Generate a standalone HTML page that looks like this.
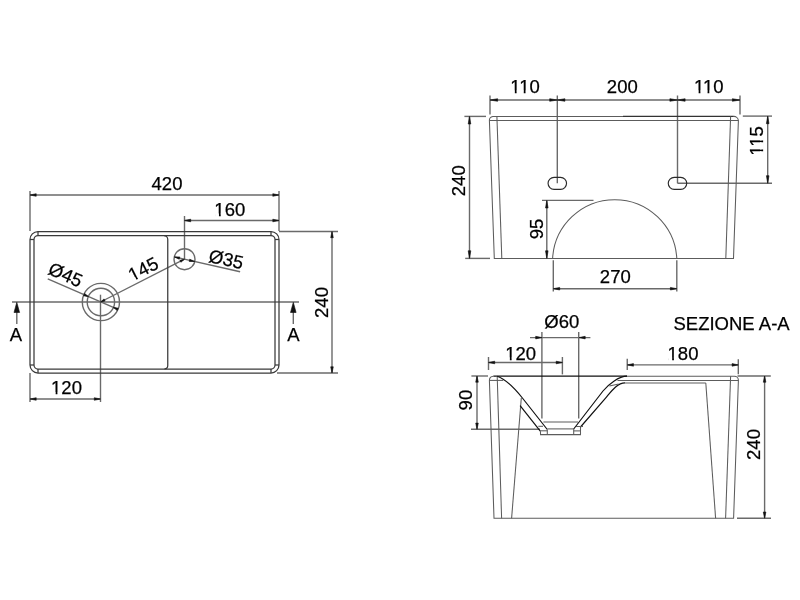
<!DOCTYPE html>
<html><head><meta charset="utf-8"><style>
html,body{margin:0;padding:0;background:#fff;width:800px;height:600px;overflow:hidden}
svg{display:block;position:absolute;left:0;top:0;will-change:transform}
text{font-family:"Liberation Sans",sans-serif}
</style></head><body>
<svg width="800" height="600" viewBox="0 0 800 600">
<defs>
<clipPath id="c0" clipPathUnits="userSpaceOnUse"><path clip-rule="evenodd" d="M29.80000000000001,156 H429.8 V276 H29.80000000000001 Z M215.08,213.50 H218.96 V217.40 H215.08 Z M220.72,213.50 H224.45 V217.40 H220.72 Z"/></clipPath>
<clipPath id="c1" clipPathUnits="userSpaceOnUse"><path clip-rule="evenodd" d="M-133.5,334.4 H266.5 V454.4 H-133.5 Z M51.78,391.90 H55.66 V395.80 H51.78 Z M57.42,391.90 H61.15 V395.80 H57.42 Z"/></clipPath>
<clipPath id="c2" clipPathUnits="userSpaceOnUse"><path clip-rule="evenodd" d="M-53.900000000000006,214.7 H346.1 V334.7 H-53.900000000000006 Z M131.38,272.20 H135.26 V276.10 H131.38 Z M137.02,272.20 H140.75 V276.10 H137.02 Z"/></clipPath>
<clipPath id="c3" clipPathUnits="userSpaceOnUse"><path clip-rule="evenodd" d="M325,33 H725 V153 H325 Z M510.96,90.50 H514.84 V94.40 H510.96 Z M516.60,90.50 H523.76 V94.40 H516.60 Z M525.52,90.50 H529.25 V94.40 H525.52 Z"/></clipPath>
<clipPath id="c4" clipPathUnits="userSpaceOnUse"><path clip-rule="evenodd" d="M508.79999999999995,33 H908.8 V153 H508.79999999999995 Z M694.76,90.50 H698.64 V94.40 H694.76 Z M700.40,90.50 H707.56 V94.40 H700.40 Z M709.32,90.50 H713.05 V94.40 H709.32 Z"/></clipPath>
<clipPath id="c5" clipPathUnits="userSpaceOnUse"><path clip-rule="evenodd" d="M562.5,81 H962.5 V201 H562.5 Z M748.46,138.50 H752.34 V142.40 H748.46 Z M754.10,138.50 H761.26 V142.40 H754.10 Z M763.02,138.50 H766.75 V142.40 H763.02 Z"/></clipPath>
<clipPath id="c6" clipPathUnits="userSpaceOnUse"><path clip-rule="evenodd" d="M320.70000000000005,300 H720.7 V420 H320.70000000000005 Z M505.98,357.50 H509.86 V361.40 H505.98 Z M511.62,357.50 H515.35 V361.40 H511.62 Z"/></clipPath>
<clipPath id="c7" clipPathUnits="userSpaceOnUse"><path clip-rule="evenodd" d="M483,300 H883 V420 H483 Z M668.28,357.50 H672.16 V361.40 H668.28 Z M673.92,357.50 H677.65 V361.40 H673.92 Z"/></clipPath>
</defs>
<g fill="none" stroke="#6a6a6a" stroke-width="1.4">
<line x1="30.00" y1="191.00" x2="30.00" y2="231.00"/>
<line x1="279.00" y1="191.00" x2="279.00" y2="231.00"/>
<line x1="30.00" y1="195.00" x2="279.00" y2="195.00"/>
<line x1="184.50" y1="216.00" x2="184.50" y2="259.20"/>
<line x1="184.50" y1="220.50" x2="279.00" y2="220.50"/>
<line x1="279.00" y1="231.50" x2="338.00" y2="231.50"/>
<line x1="277.00" y1="373.00" x2="338.00" y2="373.00"/>
<line x1="332.00" y1="231.50" x2="332.00" y2="373.00"/>
<line x1="12.00" y1="302.00" x2="299.00" y2="302.00"/>
<line x1="16.80" y1="312.00" x2="16.80" y2="324.00"/>
<line x1="293.30" y1="312.00" x2="293.30" y2="324.00"/>
<circle cx="100.9" cy="302" r="18.6"/>
<circle cx="100.9" cy="302" r="13.7"/>
<line x1="100.50" y1="294.70" x2="100.50" y2="402.00"/>
<line x1="30.00" y1="373.00" x2="30.00" y2="402.00"/>
<line x1="30.00" y1="399.00" x2="100.50" y2="399.00"/>
<circle cx="184.5" cy="259.2" r="10.5"/>
<line x1="174.26" y1="256.89" x2="240.11" y2="271.73"/>
<line x1="47.75" y1="278.78" x2="117.94" y2="309.45"/>
<line x1="100.50" y1="302.00" x2="184.50" y2="259.20"/>
<line x1="490.00" y1="95.50" x2="490.00" y2="114.60"/>
<line x1="740.00" y1="95.50" x2="740.00" y2="114.40"/>
<line x1="557.30" y1="95.50" x2="557.30" y2="183.30"/>
<line x1="677.50" y1="95.50" x2="677.50" y2="183.30"/>
<line x1="490.00" y1="100.00" x2="557.30" y2="100.00"/>
<line x1="557.30" y1="100.00" x2="677.50" y2="100.00"/>
<line x1="677.50" y1="100.00" x2="740.00" y2="100.00"/>
<line x1="464.40" y1="116.40" x2="486.00" y2="116.40"/>
<line x1="465.20" y1="258.40" x2="490.00" y2="258.40"/>
<line x1="469.50" y1="116.40" x2="469.50" y2="258.40"/>
<line x1="742.80" y1="116.10" x2="772.00" y2="116.10"/>
<line x1="677.50" y1="183.30" x2="772.00" y2="183.30"/>
<line x1="767.70" y1="116.10" x2="767.70" y2="183.30"/>
<line x1="542.00" y1="200.40" x2="593.50" y2="200.40"/>
<line x1="546.80" y1="200.40" x2="546.80" y2="258.40"/>
<line x1="553.30" y1="260.30" x2="553.30" y2="291.50"/>
<line x1="676.80" y1="260.30" x2="676.80" y2="291.50"/>
<line x1="553.30" y1="288.70" x2="676.80" y2="288.70"/>
<line x1="541.90" y1="332.00" x2="541.90" y2="418.40"/>
<line x1="578.70" y1="332.00" x2="578.70" y2="418.40"/>
<line x1="530.00" y1="337.60" x2="590.40" y2="337.60"/>
<line x1="488.50" y1="357.00" x2="488.50" y2="370.00"/>
<line x1="562.40" y1="357.00" x2="562.40" y2="374.40"/>
<line x1="488.50" y1="362.50" x2="562.40" y2="362.50"/>
<line x1="627.25" y1="358.75" x2="627.25" y2="370.00"/>
<line x1="738.30" y1="359.20" x2="738.30" y2="374.20"/>
<line x1="627.25" y1="364.90" x2="738.30" y2="364.90"/>
<line x1="471.40" y1="376.00" x2="488.00" y2="376.00"/>
<line x1="471.00" y1="429.30" x2="540.00" y2="429.30"/>
<line x1="477.00" y1="376.00" x2="477.00" y2="429.30"/>
<line x1="737.50" y1="376.00" x2="770.80" y2="376.00"/>
<line x1="737.00" y1="518.20" x2="771.00" y2="518.20"/>
<line x1="764.60" y1="376.00" x2="764.60" y2="518.20"/>
</g>
<g fill="none" stroke="#5c5c5c" stroke-width="1.05">
<path d="M38,231.5 H271 A8,8 0 0 1 279,239.5 V365 A8,8 0 0 1 271,373 H38 A8,8 0 0 1 30,365 V239.5 A8,8 0 0 1 38,231.5 Z" stroke="#3a3a3a" stroke-width="1.25"/>
<path d="M38,235.5 H271 A4,4 0 0 1 275,239.5 V365 A4,4 0 0 1 271,369 H38 A4,4 0 0 1 34,365 V239.5 A4,4 0 0 1 38,235.5 Z" stroke="#3a3a3a" stroke-width="1.25"/>
<line x1="38.00" y1="231.50" x2="38.00" y2="235.50" stroke="#3a3a3a" stroke-width="1.25"/>
<line x1="30.00" y1="239.50" x2="34.00" y2="239.50" stroke="#3a3a3a" stroke-width="1.25"/>
<line x1="271.00" y1="231.50" x2="271.00" y2="235.50" stroke="#3a3a3a" stroke-width="1.25"/>
<line x1="275.00" y1="239.50" x2="279.00" y2="239.50" stroke="#3a3a3a" stroke-width="1.25"/>
<line x1="275.00" y1="365.00" x2="279.00" y2="365.00" stroke="#3a3a3a" stroke-width="1.25"/>
<line x1="271.00" y1="369.00" x2="271.00" y2="373.00" stroke="#3a3a3a" stroke-width="1.25"/>
<line x1="38.00" y1="369.00" x2="38.00" y2="373.00" stroke="#3a3a3a" stroke-width="1.25"/>
<line x1="30.00" y1="365.00" x2="34.00" y2="365.00" stroke="#3a3a3a" stroke-width="1.25"/>
<path d="M164,235.5 A3.75,3.75 0 0 1 167.75,239.25 V365.5 A3.25,3.25 0 0 1 164.5,368.75" stroke="#3a3a3a" stroke-width="1.25"/>
<path d="M733.8,116.4 A4.5,4.5 0 0 1 738.4,120.5 L733.5,258.4 H494.3 L489.4,120.5 A4,4 0 0 1 492.8,116.4 H623"/>
<path d="M623,116.4 H733.8" stroke="#333" stroke-width="1.1"/>
<line x1="489.40" y1="120.50" x2="738.40" y2="120.50"/>
<line x1="496.90" y1="116.40" x2="501.80" y2="258.40"/>
<line x1="730.60" y1="116.40" x2="725.80" y2="258.40"/>
<rect x="548.05" y="177.3" width="18.5" height="12" rx="6" ry="6" stroke="#2a2a2a" stroke-width="1.15"/>
<rect x="668.25" y="177.3" width="18.5" height="12" rx="6" ry="6" stroke="#2a2a2a" stroke-width="1.15"/>
<path d="M552.6,258.4 A62.2,62.2 0 0 1 676.8,258.4"/>
<path d="M627,376.2 H734.4 A4,4 0 0 1 738.4,380.2 L733.6,518.2 H494 L489.4,380.4 A4.2,4.2 0 0 1 493.4,376.2"/>
<path d="M493.4,376.2 H627" stroke="#111111" stroke-width="1.2"/>
<line x1="497.20" y1="376.20" x2="501.60" y2="518.20"/>
<line x1="730.60" y1="376.20" x2="725.60" y2="518.20"/>
<line x1="705.80" y1="383.00" x2="715.60" y2="518.20"/>
<path d="M497.2,376.2 C501,377.5 510,382.5 522.4,398 L547.3,429.5" stroke="#111111" stroke-width="1.2"/>
<line x1="547.30" y1="429.50" x2="547.30" y2="434.60"/>
<line x1="521.30" y1="398.00" x2="511.60" y2="518.20"/>
<path d="M520.1,405.6 L540.5,431.3" stroke="#111111" stroke-width="1.2"/>
<path d="M540.5,431.3 V434.6 H580.5 V427"/>
<line x1="538.30" y1="426.30" x2="543.00" y2="426.30"/>
<line x1="540.50" y1="430.80" x2="547.30" y2="430.80"/>
<line x1="547.30" y1="428.90" x2="573.70" y2="428.90"/>
<line x1="543.40" y1="422.00" x2="578.00" y2="422.00"/>
<path d="M573.7,434.6 V429"/>
<path d="M573.7,429 L603,391 C608,384.5 619,376.2 627,376.2" stroke="#111111" stroke-width="1.2"/>
<path d="M580.5,427 L606,397.6 C611,391.7 617,382.9 625,382.9" stroke="#111111" stroke-width="1.2"/>
<line x1="625.00" y1="382.90" x2="705.80" y2="382.90"/>
<line x1="576.00" y1="426.50" x2="583.00" y2="426.50"/>
<line x1="573.70" y1="430.90" x2="580.50" y2="430.90"/>
<line x1="609.40" y1="386.10" x2="618.75" y2="384.00"/>
<line x1="489.40" y1="380.40" x2="503.20" y2="380.40"/>
<line x1="617.50" y1="380.40" x2="738.40" y2="380.40"/>
</g>
<g fill="#111" stroke="#111" stroke-width="0.6" stroke-linejoin="round">
<polygon points="30.00,195.00 36.20,193.70 36.20,196.30"/>
<polygon points="279.00,195.00 272.80,196.30 272.80,193.70"/>
<polygon points="184.50,220.50 190.70,219.20 190.70,221.80"/>
<polygon points="279.00,220.50 272.80,221.80 272.80,219.20"/>
<polygon points="332.00,231.50 333.30,237.70 330.70,237.70"/>
<polygon points="332.00,373.00 330.70,366.80 333.30,366.80"/>
<polygon points="16.80,302.30 19.60,312.50 14.00,312.50"/>
<polygon points="293.30,302.30 296.10,312.50 290.50,312.50"/>
<polygon points="30.00,399.00 36.20,397.70 36.20,400.30"/>
<polygon points="100.50,399.00 94.30,400.30 94.30,397.70"/>
<polygon points="174.26,256.89 179.79,256.91 179.26,259.25"/>
<polygon points="194.74,261.51 189.21,261.49 189.74,259.15"/>
<polygon points="88.62,296.64 83.52,295.82 84.56,293.44"/>
<polygon points="113.18,307.36 118.28,308.18 117.24,310.56"/>
<polygon points="184.50,259.20 180.91,262.28 179.90,260.32"/>
<polygon points="100.50,302.00 104.09,298.92 105.10,300.88"/>
<polygon points="490.00,100.00 497.60,98.70 497.60,101.30"/>
<polygon points="557.30,100.00 549.70,101.30 549.70,98.70"/>
<polygon points="557.30,100.00 564.90,98.70 564.90,101.30"/>
<polygon points="677.50,100.00 669.90,101.30 669.90,98.70"/>
<polygon points="677.50,100.00 685.10,98.70 685.10,101.30"/>
<polygon points="740.00,100.00 732.40,101.30 732.40,98.70"/>
<polygon points="469.50,116.40 470.80,124.00 468.20,124.00"/>
<polygon points="469.50,258.40 468.20,250.80 470.80,250.80"/>
<polygon points="767.70,116.10 769.00,123.70 766.40,123.70"/>
<polygon points="767.70,183.30 766.40,175.70 769.00,175.70"/>
<polygon points="546.80,200.40 548.10,208.00 545.50,208.00"/>
<polygon points="546.80,258.40 545.50,250.80 548.10,250.80"/>
<polygon points="553.30,288.70 559.70,287.40 559.70,290.00"/>
<polygon points="676.80,288.70 670.40,290.00 670.40,287.40"/>
<polygon points="541.90,337.60 535.70,338.90 535.70,336.30"/>
<polygon points="579.00,337.60 585.20,336.30 585.20,338.90"/>
<polygon points="488.50,362.50 494.70,361.20 494.70,363.80"/>
<polygon points="562.40,362.50 556.20,363.80 556.20,361.20"/>
<polygon points="627.25,364.90 633.45,363.60 633.45,366.20"/>
<polygon points="738.30,364.90 732.10,366.20 732.10,363.60"/>
<polygon points="477.00,376.00 478.30,382.20 475.70,382.20"/>
<polygon points="477.00,429.30 475.70,423.10 478.30,423.10"/>
<polygon points="764.60,376.00 765.90,382.20 763.30,382.20"/>
<polygon points="764.60,518.20 763.30,512.00 765.90,512.00"/>
</g>
<g fill="#000" stroke="#000" stroke-width="0.25" font-family="Liberation Sans, sans-serif">
<text x="167" y="190" text-anchor="middle" font-size="18.5">420</text>
<text x="229.8" y="216" text-anchor="middle" font-size="18.5" clip-path="url(#c0)">160</text>
<text x="327.5" y="302.5" text-anchor="middle" font-size="18.5" transform="rotate(-90 327.5 302.5)">240</text>
<text x="16.0" y="341" text-anchor="middle" font-size="18.5">A</text>
<text x="293.4" y="341" text-anchor="middle" font-size="18.5">A</text>
<text x="66.5" y="394.4" text-anchor="middle" font-size="18.5" clip-path="url(#c1)">120</text>
<text x="146.1" y="274.7" text-anchor="middle" font-size="18.5" transform="rotate(-26.9 146.1 274.7)" clip-path="url(#c2)">145</text>
<text x="224.8" y="265.5" text-anchor="middle" font-size="18.5" transform="rotate(12.7 224.8 265.5)">&#216;35</text>
<text x="63" y="280.5" text-anchor="middle" font-size="18.5" transform="rotate(23.6 63 280.5)">&#216;45</text>
<text x="525" y="93" text-anchor="middle" font-size="18.5" clip-path="url(#c3)">110</text>
<text x="622.3" y="93" text-anchor="middle" font-size="18.5">200</text>
<text x="708.8" y="93" text-anchor="middle" font-size="18.5" clip-path="url(#c4)">110</text>
<text x="465" y="180.75" text-anchor="middle" font-size="18.5" transform="rotate(-90 465 180.75)">240</text>
<text x="762.5" y="141" text-anchor="middle" font-size="18.5" transform="rotate(-90 762.5 141)" clip-path="url(#c5)">115</text>
<text x="542.8" y="229" text-anchor="middle" font-size="18.5" transform="rotate(-90 542.8 229)">95</text>
<text x="615.3" y="283" text-anchor="middle" font-size="18.5">270</text>
<text x="731.6" y="329.5" text-anchor="middle" font-size="18.5">SEZIONE A-A</text>
<text x="561.8" y="328" text-anchor="middle" font-size="18.5">&#216;60</text>
<text x="520.7" y="360" text-anchor="middle" font-size="18.5" clip-path="url(#c6)">120</text>
<text x="683" y="360" text-anchor="middle" font-size="18.5" clip-path="url(#c7)">180</text>
<text x="472.4" y="400.1" text-anchor="middle" font-size="18.5" transform="rotate(-90 472.4 400.1)">90</text>
<text x="759.6" y="444.5" text-anchor="middle" font-size="18.5" transform="rotate(-90 759.6 444.5)">240</text>
</g>
</svg>
</body></html>
